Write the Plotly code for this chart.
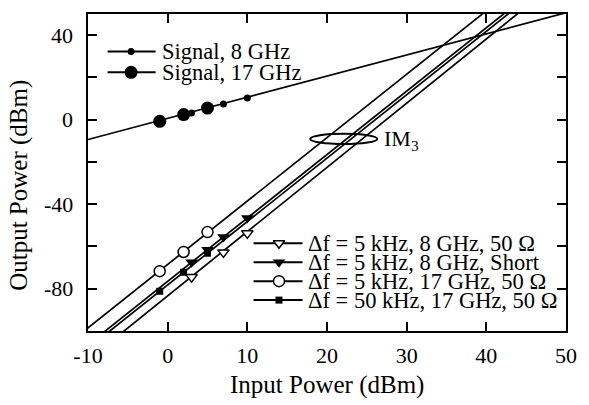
import plotly.graph_objects as go

# ---- measured data ----
sig8_x = [3, 7, 10]
sig8_y = [3.2, 7.4, 10.2]
sig17_x = [-1, 2, 5]
sig17_y = [-0.8, 2.4, 5.5]
sig_fit_x = [-10, 50]
sig_fit_y = [-9.4, 50.6]

im3_8g_50_x = [3, 7, 10]
im3_8g_50_y = [-74.5, -62.8, -53.8]
im3_8g_50_fit_x = [-6, 45]
im3_8g_50_fit_y = [-101.6, 53.4]

im3_8g_short_x = [3, 5, 7, 10]
im3_8g_short_y = [-67.5, -61.5, -55.5, -46.5]
im3_8g_short_fit_x = [-8, 43]
im3_8g_short_fit_y = [-100.5, 52.5]

im3_17g_50_x = [-1, 2, 5]
im3_17g_50_y = [-71.7, -62.6, -53.2]
im3_17g_50_fit_x = [-11, 40]
im3_17g_50_fit_y = [-101.5, 51.5]

im3_50k_x = [-1, 2, 5]
im3_50k_y = [-81.2, -72.2, -63.2]
im3_50k_fit_x = [-8, 43]
im3_50k_fit_y = [-102.2, 50.8]

x_ticks = [-10, 0, 10, 20, 30, 40, 50]
x_labels = ["-10", "0", "10", "20", "30", "40", "50"]
y_ticks = [-80, -40, 0, 40]
y_labels = ["-80", "-40", "0", "40"]
y_minor = [-60, -20, 20]

FONT = "Liberation Serif"
BLACK = "black"
LW = 1.7

fig = go.Figure()

# fitted lines
for fx, fy in [(sig_fit_x, sig_fit_y),
               (im3_8g_50_fit_x, im3_8g_50_fit_y),
               (im3_8g_short_fit_x, im3_8g_short_fit_y),
               (im3_17g_50_fit_x, im3_17g_50_fit_y),
               (im3_50k_fit_x, im3_50k_fit_y)]:
    fig.add_trace(go.Scatter(x=fx, y=fy, mode="lines",
                             line=dict(color=BLACK, width=LW),
                             showlegend=False, hoverinfo="skip"))

# measured points
series = [
    (sig8_x, sig8_y, dict(symbol="circle", size=7, color=BLACK)),
    (sig17_x, sig17_y, dict(symbol="circle", size=13, color=BLACK)),
    (im3_8g_50_x, im3_8g_50_y, dict(symbol="triangle-down", size=10, color="white",
                                    line=dict(color=BLACK, width=1.5))),
    (im3_8g_short_x, im3_8g_short_y, dict(symbol="triangle-down", size=11, color=BLACK)),
    (im3_17g_50_x, im3_17g_50_y, dict(symbol="circle", size=11, color="white",
                                      line=dict(color=BLACK, width=1.5))),
    (im3_50k_x, im3_50k_y, dict(symbol="square", size=7, color=BLACK)),
]
for sx, sy, mk in series:
    fig.add_trace(go.Scatter(x=sx, y=sy, mode="markers", marker=mk,
                             showlegend=False))

# legend glyphs on an overlay axis measured in plot pixels
legend_rows = [
    (108, 157, 132, 162, 50.5, "Signal, 8 GHz", series[0][2]),
    (108, 157, 132, 162, 71.5, "Signal, 17 GHz", series[1][2]),
    (257, 307, 283, 311, 243, "Δf = 5 kHz, 8 GHz, 50 Ω", series[2][2]),
    (257, 307, 283, 311, 262, "Δf = 5 kHz, 8 GHz, Short", series[3][2]),
    (257, 307, 283, 311, 281, "Δf = 5 kHz, 17 GHz, 50 Ω", series[4][2]),
    (257, 307, 283, 311, 300, "Δf = 50 kHz, 17 GHz, 50 Ω", series[5][2]),
]
annotations = []
for x0, x1, xm, xt, yr, label, mk in legend_rows:
    fig.add_trace(go.Scatter(x=[x0, x1], y=[yr, yr], mode="lines",
                             line=dict(color=BLACK, width=2),
                             xaxis="x2", yaxis="y2", showlegend=False,
                             hoverinfo="skip"))
    fig.add_trace(go.Scatter(x=[xm], y=[yr], mode="markers", marker=mk,
                             xaxis="x2", yaxis="y2", showlegend=False,
                             hoverinfo="skip"))
    annotations.append(dict(x=xt, y=yr, xref="x2", yref="y2", text=label,
                            showarrow=False, xanchor="left", yanchor="middle",
                            font=dict(family=FONT, size=22.5, color=BLACK)))

# IM3 ellipse and label
fig.add_shape(type="circle", x0=17.9, x1=26.3, y0=-11.5, y1=-6.7,
              xref="x", yref="y", line=dict(color=BLACK, width=2))
annotations.append(dict(x=26.9, y=-9.8, xref="x", yref="y", text="IM<sub>3</sub>",
                        showarrow=False, xanchor="left", yanchor="middle",
                        font=dict(family=FONT, size=22, color=BLACK)))

# y tick labels, set close to the axis line
for val, lab in zip(y_ticks, y_labels):
    annotations.append(dict(x=-0.027, y=val, xref="paper", yref="y", text=lab,
                            showarrow=False, xanchor="right", yanchor="middle",
                            font=dict(family=FONT, size=22, color=BLACK)))

# axis titles
annotations.append(dict(x=0.5, y=-0.17, xref="paper", yref="paper",
                        text="Input Power (dBm)", showarrow=False,
                        xanchor="center", yanchor="middle",
                        font=dict(family=FONT, size=25, color=BLACK)))
annotations.append(dict(x=-0.145, y=0.46, xref="paper", yref="paper",
                        text="Output Power (dBm)", showarrow=False, textangle=-90,
                        xanchor="center", yanchor="middle",
                        font=dict(family=FONT, size=25, color=BLACK)))

axis_common = dict(showgrid=False, zeroline=False, showline=True,
                   linecolor=BLACK, linewidth=2, mirror="ticks",
                   ticks="inside", ticklen=9, tickwidth=2, tickcolor=BLACK,
                   tickfont=dict(family=FONT, size=22, color=BLACK))

fig.update_layout(
    width=589, height=405,
    margin=dict(l=88, r=13, t=13, b=74),
    paper_bgcolor="white", plot_bgcolor="white",
    showlegend=False,
    xaxis=dict(range=[-10, 50], tickvals=x_ticks, ticktext=x_labels,
               ticklabelstandoff=4, **axis_common),
    yaxis=dict(range=[-100, 50], tickvals=y_ticks, showticklabels=False,
               minor=dict(tickvals=y_minor, ticks="inside", ticklen=9,
                          tickwidth=2, tickcolor=BLACK),
               **axis_common),
    xaxis2=dict(range=[88, 576], overlaying="x", visible=False),
    yaxis2=dict(range=[331, 13], overlaying="y", visible=False),
    annotations=annotations,
)

fig.write_html("out.html")
